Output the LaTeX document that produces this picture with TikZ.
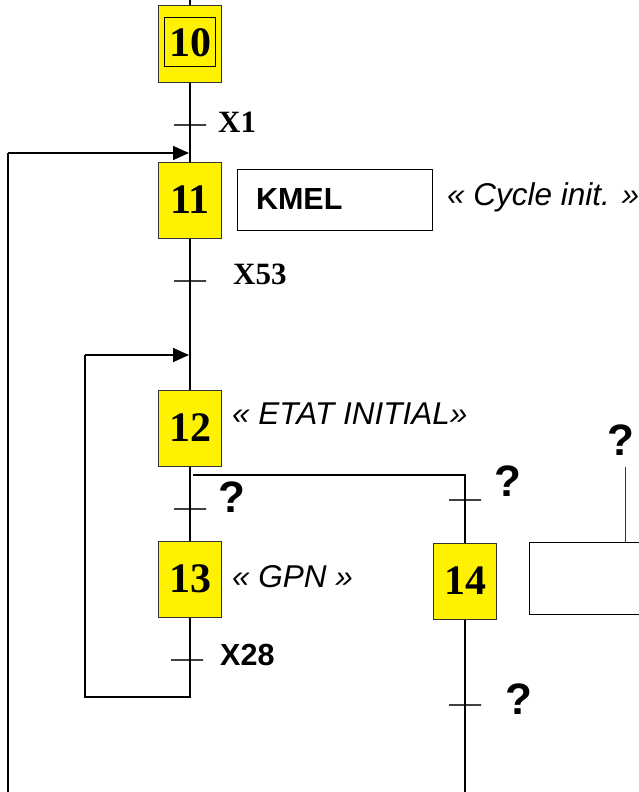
\documentclass[tikz,border=0pt]{standalone}
\usepackage{fontspec}
\setmainfont{Liberation Serif}
\newfontfamily\arialf{Liberation Sans}
\usetikzlibrary{arrows.meta}
\begin{document}
\begin{tikzpicture}[x=1pt,y=-1pt,
  stepbox/.style={draw=black!80, fill=yellow, line width=1pt, minimum width=63pt, minimum height=76pt, inner sep=0pt, font=\bfseries\fontsize{42}{42}\selectfont},
  link/.style={line width=1.5pt, black},
  tick/.style={draw=black!75, line width=1.1pt, minimum width=32pt, minimum height=0pt, inner sep=0pt},
  arr/.style={link, -{Triangle[length=16pt,width=14pt]}},
  serlab/.style={font=\bfseries\fontsize{31}{31}\selectfont, anchor=west, inner sep=0pt},
  sanslab/.style={font=\arialf\bfseries\fontsize{30.5}{30.5}\selectfont, anchor=west, inner sep=0pt},
  itlab/.style={font=\arialf\itshape\fontsize{31.5}{31.5}\selectfont, anchor=west, inner sep=0pt},
  qlab/.style={font=\arialf\bfseries\fontsize{44}{44}\selectfont, anchor=west, inner sep=0pt},
  actbox/.style={draw, line width=1pt, inner sep=0pt}]
\clip (0,0) rectangle (639,792);
\fill[white] (0,0) rectangle (639,792);
% top entry
\coordinate (top) at (190,0);
% steps
\node[stepbox] (s10) at (190,44) {};
\node[draw, line width=1pt, minimum width=51pt, minimum height=49pt, inner sep=0pt, font=\bfseries\fontsize{42}{42}\selectfont] (s10in) at (190,42.5) {10};
\node[stepbox] (s11) at (190,200) {11};
\node[stepbox] (s12) at (190,428) {12};
\node[stepbox] (s13) at (190,579) {13};
\node[stepbox] (s14) at (465,581) {14};
% transitions
\node[tick] (t1) at (190,125) {};
\node[tick] (t53) at (190,281) {};
\node[tick] (t12) at (190,509) {};
\node[tick] (t28) at (187,660) {};
\node[tick] (t14a) at (465,500) {};
\node[tick] (t14b) at (465,705) {};
% transition labels
\node[serlab] (l1) at (218,122) {X1};
\node[serlab] (l53) at (233,274) {X53};
\node[qlab] (q12) at (218,497) {?};
\node[sanslab] (l28) at (220,655) {X28};
\node[qlab] (q14a) at (494,481) {?};
\node[qlab] (q14b) at (505,699) {?};
% action boxes and comments
\node[actbox, minimum width=195pt, minimum height=61pt, text width=157pt, inner xsep=19pt, align=left, font=\arialf\bfseries\fontsize{30.5}{30.5}\selectfont] (kmel) at (334.5,199.5) {KMEL};
\node[itlab] (c11) at (447,197) {« Cycle init. »};
\node[itlab] (c12) at (232,414) {« ETAT INITIAL»};
\node[itlab] (c13) at (232,577) {« GPN »};
\node[actbox, minimum width=171pt, minimum height=72pt] (a14) at (614.5,578) {};
\coordinate (a14top) at (625,542);
\coordinate (a14q) at (625,467);
\draw[black!80, line width=1pt] (a14top) -- (a14q);
\node[qlab] (qa14) at (607,440) {?};
% main sequence
\draw[link] (top) -- (s10.north);
\draw[link] (s10.south) -- (s11.north);
\draw[link] (s11.south) -- (s12.north);
\draw[link] (s12.south) -- (s13.north);
% divergence to 14
\coordinate (d1) at (193,475);
\coordinate (d2) at (465,475);
\draw[link] (d1) -- (d2) -- (s14.north);
% loop 13 -> 12
\coordinate (b13) at (190,697);
\coordinate (l13b) at (85,697);
\coordinate (l13t) at (85,355);
\coordinate (e12) at (189,355);
\draw[link] (s13.south) -- (b13) -- (l13b) -- (l13t);
\draw[arr] (l13t) -- (e12);
% loop 14 -> 11
\coordinate (b14) at (465,793);
\coordinate (l14b) at (8,793);
\coordinate (l14t) at (8,153);
\coordinate (e11) at (189,153);
\draw[link] (s14.south) -- (b14) -- (l14b) -- (l14t);
\draw[arr] (l14t) -- (e11);
\end{tikzpicture}
\end{document}
